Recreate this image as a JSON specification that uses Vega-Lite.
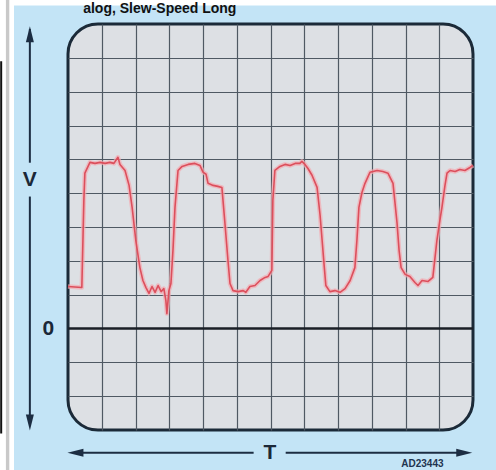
{
  "$schema": "https://vega.github.io/schema/vega-lite/v6.json",
  "width": 405,
  "height": 406,
  "autosize": {"type": "none"},
  "padding": {"left": 68, "top": 24, "right": 23, "bottom": 40},
  "background": "#c3e4f6",
  "config": {
    "view": {"fill": "#dde0e4", "stroke": "#1b2a38", "strokeWidth": 3, "cornerRadius": 30},
    "font": "Liberation Sans"
  },
  "datasets": {
    "wave": [
      {"t": 0.0, "v": 1.24}, {"t": 0.41, "v": 1.21}, {"t": 0.47, "v": 3.79}, {"t": 0.5, "v": 4.59},
      {"t": 0.65, "v": 4.91}, {"t": 0.8, "v": 4.88}, {"t": 0.95, "v": 4.91}, {"t": 1.1, "v": 4.88},
      {"t": 1.24, "v": 4.91}, {"t": 1.36, "v": 4.88}, {"t": 1.48, "v": 5.06}, {"t": 1.54, "v": 4.85},
      {"t": 1.69, "v": 4.67}, {"t": 1.81, "v": 4.23}, {"t": 1.9, "v": 3.58}, {"t": 2.01, "v": 2.6},
      {"t": 2.13, "v": 1.8}, {"t": 2.22, "v": 1.42}, {"t": 2.31, "v": 1.21}, {"t": 2.4, "v": 1.04},
      {"t": 2.49, "v": 1.24}, {"t": 2.58, "v": 1.07}, {"t": 2.67, "v": 1.27}, {"t": 2.76, "v": 1.09},
      {"t": 2.84, "v": 1.18}, {"t": 2.9, "v": 0.83}, {"t": 2.93, "v": 0.44}, {"t": 2.99, "v": 1.12},
      {"t": 3.05, "v": 1.33}, {"t": 3.11, "v": 2.31}, {"t": 3.17, "v": 3.58}, {"t": 3.26, "v": 4.67},
      {"t": 3.38, "v": 4.79}, {"t": 3.56, "v": 4.85}, {"t": 3.76, "v": 4.88}, {"t": 3.91, "v": 4.82},
      {"t": 4.0, "v": 4.62}, {"t": 4.09, "v": 4.56}, {"t": 4.15, "v": 4.29}, {"t": 4.3, "v": 4.23},
      {"t": 4.44, "v": 4.2}, {"t": 4.56, "v": 4.17}, {"t": 4.65, "v": 3.11}, {"t": 4.74, "v": 2.01},
      {"t": 4.8, "v": 1.33}, {"t": 4.89, "v": 1.12}, {"t": 5.04, "v": 1.09}, {"t": 5.19, "v": 1.12},
      {"t": 5.27, "v": 1.07}, {"t": 5.39, "v": 1.24}, {"t": 5.54, "v": 1.27}, {"t": 5.69, "v": 1.42},
      {"t": 5.84, "v": 1.51}, {"t": 5.93, "v": 1.54}, {"t": 6.04, "v": 1.72}, {"t": 6.07, "v": 3.79},
      {"t": 6.13, "v": 4.67}, {"t": 6.28, "v": 4.79}, {"t": 6.43, "v": 4.85}, {"t": 6.58, "v": 4.82},
      {"t": 6.73, "v": 4.88}, {"t": 6.87, "v": 4.88}, {"t": 6.93, "v": 4.94}, {"t": 7.02, "v": 4.85},
      {"t": 7.11, "v": 4.73}, {"t": 7.23, "v": 4.53}, {"t": 7.38, "v": 4.17}, {"t": 7.47, "v": 3.34},
      {"t": 7.53, "v": 2.6}, {"t": 7.59, "v": 1.86}, {"t": 7.64, "v": 1.27}, {"t": 7.76, "v": 1.09},
      {"t": 7.91, "v": 1.12}, {"t": 8.06, "v": 1.07}, {"t": 8.21, "v": 1.18}, {"t": 8.36, "v": 1.42},
      {"t": 8.5, "v": 1.8}, {"t": 8.56, "v": 2.6}, {"t": 8.62, "v": 3.58}, {"t": 8.71, "v": 4.02},
      {"t": 8.8, "v": 4.29}, {"t": 8.95, "v": 4.62}, {"t": 9.16, "v": 4.67}, {"t": 9.33, "v": 4.64},
      {"t": 9.48, "v": 4.59}, {"t": 9.63, "v": 4.29}, {"t": 9.75, "v": 3.11}, {"t": 9.81, "v": 2.31},
      {"t": 9.87, "v": 1.8}, {"t": 9.99, "v": 1.6}, {"t": 10.13, "v": 1.54}, {"t": 10.28, "v": 1.36},
      {"t": 10.37, "v": 1.27}, {"t": 10.49, "v": 1.42}, {"t": 10.67, "v": 1.39}, {"t": 10.81, "v": 1.51},
      {"t": 10.93, "v": 2.6}, {"t": 11.02, "v": 3.2}, {"t": 11.08, "v": 3.58}, {"t": 11.17, "v": 4.23},
      {"t": 11.23, "v": 4.59}, {"t": 11.32, "v": 4.67}, {"t": 11.47, "v": 4.64}, {"t": 11.61, "v": 4.7},
      {"t": 11.76, "v": 4.67}, {"t": 11.91, "v": 4.76}, {"t": 12.0, "v": 4.82}
    ],
    "arrowLines": [
      {"x1": -1.13, "x2": -1.13, "y1": 8.85, "y2": 4.9},
      {"x1": -1.13, "x2": -1.13, "y1": 3.9, "y2": -2.6},
      {"x1": 0.35, "x2": 5.5, "y1": -3.67, "y2": -3.67},
      {"x1": 6.45, "x2": 11.6, "y1": -3.67, "y2": -3.67}
    ],
    "heads": [
      {"x": -1.13, "y": 8.7, "dir": "up"},
      {"x": -1.13, "y": -2.78, "dir": "down"},
      {"x": 0.22, "y": -3.67, "dir": "left"},
      {"x": 11.74, "y": -3.67, "dir": "right"}
    ],
    "zero": [{"y": 0}],
    "bigLabels": [
      {"x": -1.13, "y": 4.38, "label": "V"},
      {"x": -0.58, "y": -0.02, "label": "0"},
      {"x": 5.98, "y": -3.67, "label": "T"}
    ],
    "code": [{"x": 10.5, "y": -4.0, "label": "AD23443"}],
    "title": [{"x": 0.45, "y": 9.33, "label": "alog, Slew-Speed Long"}],
    "panels": [
      {"x1": -2.1, "x2": -1.6, "y1": 9.8, "y2": -4.3, "kind": "white"},
      {"x1": -1.6, "x2": 12.8, "y1": 9.8, "y2": 9.55, "kind": "white"},
      {"x1": -1.84, "x2": -1.74, "y1": 9.8, "y2": -4.3, "kind": "gray"}
    ],
    "frame": [{"x1": -1.98, "x2": -1.98, "y1": 7.9, "y2": -3.1}]
  },
  "layer": [
    {
      "data": {"name": "panels"},
      "mark": {"type": "rect", "clip": false},
      "encoding": {
        "x": {"field": "x1", "type": "quantitative", "scale": {"domain": [0, 12], "nice": false, "zero": false}},
        "x2": {"field": "x2"},
        "y": {"field": "y1", "type": "quantitative", "scale": {"domain": [-3, 9], "nice": false, "zero": false}},
        "y2": {"field": "y2"},
        "color": {"field": "kind", "type": "nominal", "scale": {"domain": ["white", "gray"], "range": ["#ffffff", "#c9c9c9"]}, "legend": null}
      }
    },
    {
      "data": {"name": "frame"},
      "mark": {"type": "rule", "stroke": "#111111", "strokeWidth": 2, "clip": false},
      "encoding": {
        "x": {"field": "x1", "type": "quantitative"},
        "x2": {"field": "x2"},
        "y": {"field": "y1", "type": "quantitative"},
        "y2": {"field": "y2"}
      }
    },
    {
      "data": {"values": [{"a": 1}]},
      "mark": {"type": "point", "opacity": 0},
      "encoding": {
        "x": {"datum": 6, "type": "quantitative",
          "axis": {"values": [1, 2, 3, 4, 5, 6, 7, 8, 9, 10, 11], "grid": true, "gridColor": "#4f5963", "gridWidth": 1.2, "labels": false, "ticks": false, "domain": false, "title": null}},
        "y": {"datum": 3, "type": "quantitative",
          "axis": {"values": [-2, -1, 1, 2, 3, 4, 5, 6, 7, 8], "grid": true, "gridColor": "#4f5963", "gridWidth": 1.2, "labels": false, "ticks": false, "domain": false, "title": null}}
      }
    },
    {
      "data": {"name": "zero"},
      "mark": {"type": "rule", "stroke": "#1a1f26", "strokeWidth": 2.5},
      "encoding": {"y": {"field": "y", "type": "quantitative"}}
    },
    {
      "data": {"name": "wave"},
      "mark": {"type": "line", "stroke": "#f3aab0", "strokeWidth": 4.5, "opacity": 0.7, "strokeJoin": "round"},
      "encoding": {
        "x": {"field": "t", "type": "quantitative"},
        "y": {"field": "v", "type": "quantitative"}
      }
    },
    {
      "data": {"name": "wave"},
      "mark": {"type": "line", "stroke": "#dc4f5c", "strokeWidth": 1.6, "strokeJoin": "round"},
      "encoding": {
        "x": {"field": "t", "type": "quantitative"},
        "y": {"field": "v", "type": "quantitative"}
      }
    },
    {
      "data": {"name": "arrowLines"},
      "mark": {"type": "rule", "stroke": "#1c2d42", "strokeWidth": 2, "clip": false},
      "encoding": {
        "x": {"field": "x1", "type": "quantitative"},
        "x2": {"field": "x2"},
        "y": {"field": "y1", "type": "quantitative"},
        "y2": {"field": "y2"}
      }
    },
    {
      "data": {"name": "heads"},
      "mark": {"type": "point", "filled": true, "size": 256, "opacity": 1, "clip": false, "fill": "#1c2d42", "strokeWidth": 0},
      "encoding": {
        "x": {"field": "x", "type": "quantitative"},
        "y": {"field": "y", "type": "quantitative"},
        "shape": {"field": "dir", "type": "nominal", "legend": null,
          "scale": {"domain": ["up", "down", "left", "right"],
            "range": ["M0,-1L0.5,1L-0.5,1Z", "M0,1L0.5,-1L-0.5,-1Z", "M-1,0L1,-0.5L1,0.5Z", "M1,0L-1,-0.5L-1,0.5Z"]}}
      }
    },
    {
      "data": {"name": "bigLabels"},
      "mark": {"type": "text", "fontSize": 21, "fontWeight": "bold", "fill": "#1b2838", "align": "center", "baseline": "middle", "clip": false, "font": "Liberation Sans"},
      "encoding": {
        "x": {"field": "x", "type": "quantitative"},
        "y": {"field": "y", "type": "quantitative"},
        "text": {"field": "label"}
      }
    },
    {
      "data": {"name": "code"},
      "mark": {"type": "text", "fontSize": 10, "fontWeight": "bold", "fill": "#1f3450", "align": "center", "baseline": "middle", "clip": false, "font": "Liberation Sans"},
      "encoding": {
        "x": {"field": "x", "type": "quantitative"},
        "y": {"field": "y", "type": "quantitative"},
        "text": {"field": "label"}
      }
    },
    {
      "data": {"name": "title"},
      "mark": {"type": "text", "fontSize": 14, "fontWeight": "bold", "fill": "#111111", "align": "left", "baseline": "alphabetic", "clip": false, "font": "Liberation Sans"},
      "encoding": {
        "x": {"field": "x", "type": "quantitative"},
        "y": {"field": "y", "type": "quantitative"},
        "text": {"field": "label"}
      }
    }
  ]
}
